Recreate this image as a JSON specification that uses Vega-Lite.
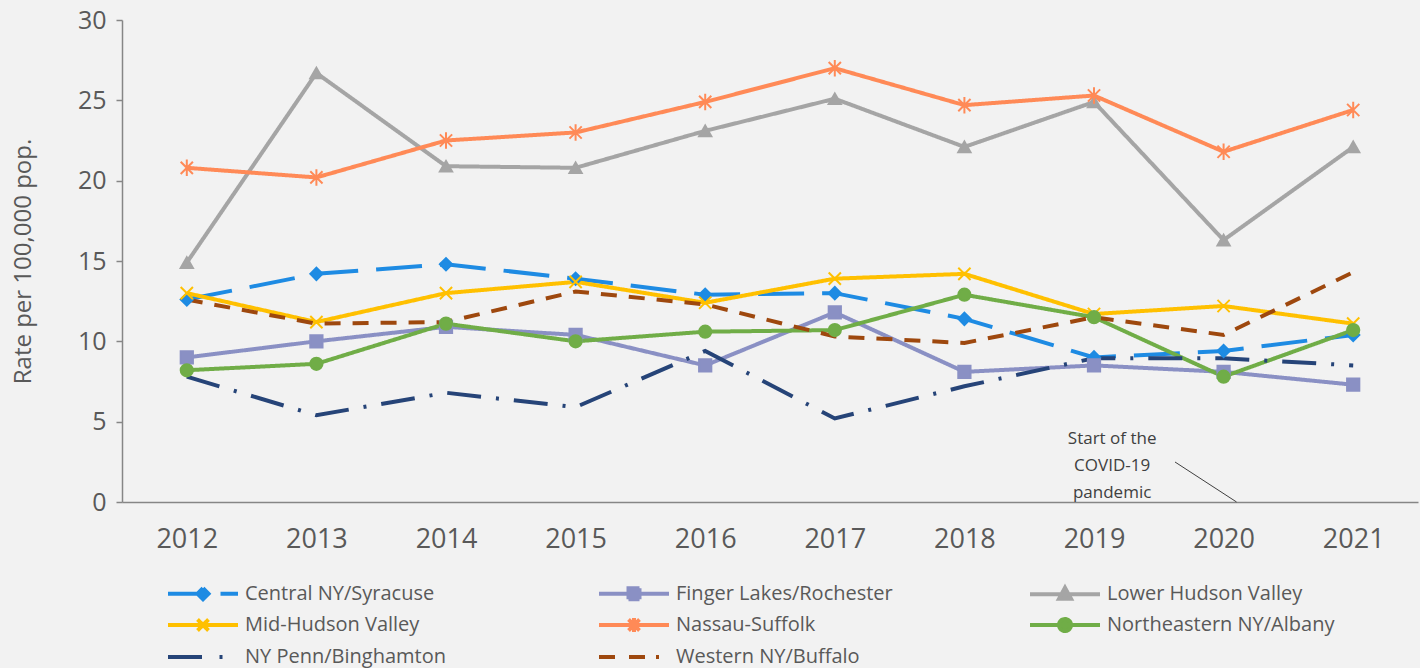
{
  "$schema": "https://vega.github.io/schema/vega-lite/v6.json",
  "width": 1296,
  "height": 482,
  "autosize": {"type": "none"},
  "padding": {"left": 122, "top": 20, "right": 2, "bottom": 166},
  "background": "#F2F2F2",
  "config": {"view": {"stroke": null}, "font": "Open Sans"},
  "datasets": {
    "rates": [
      {"region": "Central NY/Syracuse", "year": 2012, "rate": 12.6},
      {"region": "Central NY/Syracuse", "year": 2013, "rate": 14.2},
      {"region": "Central NY/Syracuse", "year": 2014, "rate": 14.8},
      {"region": "Central NY/Syracuse", "year": 2015, "rate": 13.9},
      {"region": "Central NY/Syracuse", "year": 2016, "rate": 12.9},
      {"region": "Central NY/Syracuse", "year": 2017, "rate": 13.0},
      {"region": "Central NY/Syracuse", "year": 2018, "rate": 11.4},
      {"region": "Central NY/Syracuse", "year": 2019, "rate": 9.0},
      {"region": "Central NY/Syracuse", "year": 2020, "rate": 9.4},
      {"region": "Central NY/Syracuse", "year": 2021, "rate": 10.4},
      {"region": "Finger Lakes/Rochester", "year": 2012, "rate": 9.0},
      {"region": "Finger Lakes/Rochester", "year": 2013, "rate": 10.0},
      {"region": "Finger Lakes/Rochester", "year": 2014, "rate": 10.9},
      {"region": "Finger Lakes/Rochester", "year": 2015, "rate": 10.4},
      {"region": "Finger Lakes/Rochester", "year": 2016, "rate": 8.5},
      {"region": "Finger Lakes/Rochester", "year": 2017, "rate": 11.8},
      {"region": "Finger Lakes/Rochester", "year": 2018, "rate": 8.1},
      {"region": "Finger Lakes/Rochester", "year": 2019, "rate": 8.5},
      {"region": "Finger Lakes/Rochester", "year": 2020, "rate": 8.1},
      {"region": "Finger Lakes/Rochester", "year": 2021, "rate": 7.3},
      {"region": "Lower Hudson Valley", "year": 2012, "rate": 14.9},
      {"region": "Lower Hudson Valley", "year": 2013, "rate": 26.7},
      {"region": "Lower Hudson Valley", "year": 2014, "rate": 20.9},
      {"region": "Lower Hudson Valley", "year": 2015, "rate": 20.8},
      {"region": "Lower Hudson Valley", "year": 2016, "rate": 23.1},
      {"region": "Lower Hudson Valley", "year": 2017, "rate": 25.1},
      {"region": "Lower Hudson Valley", "year": 2018, "rate": 22.1},
      {"region": "Lower Hudson Valley", "year": 2019, "rate": 24.9},
      {"region": "Lower Hudson Valley", "year": 2020, "rate": 16.3},
      {"region": "Lower Hudson Valley", "year": 2021, "rate": 22.1},
      {"region": "Mid-Hudson Valley", "year": 2012, "rate": 13.0},
      {"region": "Mid-Hudson Valley", "year": 2013, "rate": 11.2},
      {"region": "Mid-Hudson Valley", "year": 2014, "rate": 13.0},
      {"region": "Mid-Hudson Valley", "year": 2015, "rate": 13.7},
      {"region": "Mid-Hudson Valley", "year": 2016, "rate": 12.4},
      {"region": "Mid-Hudson Valley", "year": 2017, "rate": 13.9},
      {"region": "Mid-Hudson Valley", "year": 2018, "rate": 14.2},
      {"region": "Mid-Hudson Valley", "year": 2019, "rate": 11.7},
      {"region": "Mid-Hudson Valley", "year": 2020, "rate": 12.2},
      {"region": "Mid-Hudson Valley", "year": 2021, "rate": 11.1},
      {"region": "Nassau-Suffolk", "year": 2012, "rate": 20.8},
      {"region": "Nassau-Suffolk", "year": 2013, "rate": 20.2},
      {"region": "Nassau-Suffolk", "year": 2014, "rate": 22.5},
      {"region": "Nassau-Suffolk", "year": 2015, "rate": 23.0},
      {"region": "Nassau-Suffolk", "year": 2016, "rate": 24.9},
      {"region": "Nassau-Suffolk", "year": 2017, "rate": 27.0},
      {"region": "Nassau-Suffolk", "year": 2018, "rate": 24.7},
      {"region": "Nassau-Suffolk", "year": 2019, "rate": 25.3},
      {"region": "Nassau-Suffolk", "year": 2020, "rate": 21.8},
      {"region": "Nassau-Suffolk", "year": 2021, "rate": 24.4},
      {"region": "Northeastern NY/Albany", "year": 2012, "rate": 8.2},
      {"region": "Northeastern NY/Albany", "year": 2013, "rate": 8.6},
      {"region": "Northeastern NY/Albany", "year": 2014, "rate": 11.1},
      {"region": "Northeastern NY/Albany", "year": 2015, "rate": 10.0},
      {"region": "Northeastern NY/Albany", "year": 2016, "rate": 10.6},
      {"region": "Northeastern NY/Albany", "year": 2017, "rate": 10.7},
      {"region": "Northeastern NY/Albany", "year": 2018, "rate": 12.9},
      {"region": "Northeastern NY/Albany", "year": 2019, "rate": 11.5},
      {"region": "Northeastern NY/Albany", "year": 2020, "rate": 7.8},
      {"region": "Northeastern NY/Albany", "year": 2021, "rate": 10.7},
      {"region": "NY Penn/Binghamton", "year": 2012, "rate": 7.8},
      {"region": "NY Penn/Binghamton", "year": 2013, "rate": 5.4},
      {"region": "NY Penn/Binghamton", "year": 2014, "rate": 6.8},
      {"region": "NY Penn/Binghamton", "year": 2015, "rate": 5.9},
      {"region": "NY Penn/Binghamton", "year": 2016, "rate": 9.4},
      {"region": "NY Penn/Binghamton", "year": 2017, "rate": 5.2},
      {"region": "NY Penn/Binghamton", "year": 2018, "rate": 7.2},
      {"region": "NY Penn/Binghamton", "year": 2019, "rate": 8.95},
      {"region": "NY Penn/Binghamton", "year": 2020, "rate": 8.95},
      {"region": "NY Penn/Binghamton", "year": 2021, "rate": 8.5},
      {"region": "Western NY/Buffalo", "year": 2012, "rate": 12.6},
      {"region": "Western NY/Buffalo", "year": 2013, "rate": 11.1},
      {"region": "Western NY/Buffalo", "year": 2014, "rate": 11.2},
      {"region": "Western NY/Buffalo", "year": 2015, "rate": 13.1},
      {"region": "Western NY/Buffalo", "year": 2016, "rate": 12.3},
      {"region": "Western NY/Buffalo", "year": 2017, "rate": 10.3},
      {"region": "Western NY/Buffalo", "year": 2018, "rate": 9.9},
      {"region": "Western NY/Buffalo", "year": 2019, "rate": 11.5},
      {"region": "Western NY/Buffalo", "year": 2020, "rate": 10.4},
      {"region": "Western NY/Buffalo", "year": 2021, "rate": 14.3}
    ],
    "note": [
      {"x": 2019.14, "y": 3.92, "t": "Start of the"},
      {"x": 2019.14, "y": 2.24, "t": "COVID-19"},
      {"x": 2019.14, "y": 0.56, "t": "pandemic"}
    ],
    "leader": [
      {"x": 2019.625, "y": 2.49, "x2": 2020.1, "y2": 0}
    ]
  },
  "layer": [
    {
      "data": {"name": "rates"},
      "mark": {"type": "line", "strokeWidth": 4},
      "encoding": {
        "x": {
          "field": "year", "type": "quantitative",
          "scale": {"domain": [2011.5, 2021.5], "nice": false, "zero": false},
          "axis": {
            "title": null, "values": [2012, 2013, 2014, 2015, 2016, 2017, 2018, 2019, 2020, 2021],
            "format": "d", "grid": false, "ticks": false,
            "domainColor": "#868686", "domainWidth": 1.5,
            "labelFontSize": 27, "labelColor": "#595959", "labelPadding": 24
          }
        },
        "y": {
          "field": "rate", "type": "quantitative",
          "scale": {"domain": [0, 30], "nice": false},
          "axis": {
            "title": "Rate per 100,000 pop.", "values": [0, 5, 10, 15, 20, 25, 30],
            "grid": false, "domainColor": "#868686", "domainWidth": 1.5,
            "tickColor": "#868686", "tickWidth": 1.5, "tickSize": 6,
            "labelFontSize": 25, "labelColor": "#595959", "labelPadding": 10,
            "titleFontSize": 24, "titleFontWeight": "normal", "titleColor": "#595959",
            "titlePadding": 42
          }
        },
        "color": {
          "field": "region", "type": "nominal",
          "scale": {
            "domain": ["Central NY/Syracuse", "Finger Lakes/Rochester", "Lower Hudson Valley", "Mid-Hudson Valley", "Nassau-Suffolk", "Northeastern NY/Albany", "NY Penn/Binghamton", "Western NY/Buffalo"],
            "range": ["#1E8BE3", "#8A90C4", "#A5A5A5", "#FFC000", "#FF8A57", "#70AD47", "#264478", "#9E480E"]
          },
          "legend": {
            "title": null, "orient": "none", "legendX": 46, "legendY": 563, "direction": "horizontal",
            "columns": 3, "gridAlign": "all", "columnPadding": 118, "rowPadding": 2,
            "padding": 0, "symbolSize": 100, "symbolStrokeWidth": 4,
            "labelFontSize": 20, "labelColor": "#595959", "labelLimit": 400,
            "encode": {
              "symbols": {
                "update": {
                  "x": {"value": 35},
                  "size": {"value": 100},
                  "strokeWidth": {"value": 4},
                  "stroke": {"scale": "color", "field": "value"},
                  "fill": {"scale": "color", "field": "value"},
                  "opacity": {"value": 1},
                  "shape": {"signal": "datum.value === 'Central NY/Syracuse' ? 'M-7,0H0M0,-1.1L1.1,0L0,1.1L-1.1,0ZM3.5,0H7' : datum.value === 'Finger Lakes/Rochester' ? 'M-7,0H7M-1.1,-1.1H1.1V1.1H-1.1Z' : datum.value === 'Lower Hudson Valley' ? 'M-7,0H7M0,-1.3L1.2,0.9H-1.2Z' : datum.value === 'Mid-Hudson Valley' ? 'M-7,0H7M-1.1,-1.1L1.1,1.1M-1.1,1.1L1.1,-1.1' : datum.value === 'Nassau-Suffolk' ? 'M-7,0H7M-1.1,-1.1L1.1,1.1M-1.1,1.1L1.1,-1.1M0,-1.4V1.4' : datum.value === 'Northeastern NY/Albany' ? 'M-7,0H7M1.2,0A1.2,1.2,0,1,1,-1.2,0A1.2,1.2,0,1,1,1.2,0Z' : datum.value === 'NY Penn/Binghamton' ? 'M-7,0H0M3.3,0H3.9' : 'M-7,0H-3.6M-1,0H2.6M4.4,0H5'"}
                }
              },
              "labels": {"update": {"x": {"value": 77}}}
            }
          }
        },
        "strokeDash": {
          "field": "region", "type": "nominal",
          "scale": {
            "domain": ["Central NY/Syracuse", "Finger Lakes/Rochester", "Lower Hudson Valley", "Mid-Hudson Valley", "Nassau-Suffolk", "Northeastern NY/Albany", "NY Penn/Binghamton", "Western NY/Buffalo"],
            "range": [[46, 18], [1, 0], [1, 0], [1, 0], [1, 0], [1, 0], [34, 15, 3, 15], [16, 12]]
          },
          "legend": null
        }
      }
    },
    {
      "data": {"name": "rates"},
      "transform": [{"filter": "datum.region !== 'NY Penn/Binghamton' && datum.region !== 'Western NY/Buffalo'"}],
      "mark": {"type": "point", "size": 150, "strokeWidth": 2, "opacity": 1},
      "encoding": {
        "x": {"field": "year", "type": "quantitative"},
        "y": {"field": "rate", "type": "quantitative"},
        "fill": {
          "field": "region", "type": "nominal",
          "scale": {
            "domain": ["Central NY/Syracuse", "Finger Lakes/Rochester", "Lower Hudson Valley", "Mid-Hudson Valley", "Nassau-Suffolk", "Northeastern NY/Albany"],
            "range": ["#1E8BE3", "#8A90C4", "#A5A5A5", "#FFC000", "#FF8A57", "#70AD47"]
          },
          "legend": null
        },
        "stroke": {
          "field": "region", "type": "nominal",
          "scale": {
            "domain": ["Central NY/Syracuse", "Finger Lakes/Rochester", "Lower Hudson Valley", "Mid-Hudson Valley", "Nassau-Suffolk", "Northeastern NY/Albany"],
            "range": ["#1E8BE3", "#8A90C4", "#A5A5A5", "#FFC000", "#FF8A57", "#70AD47"]
          },
          "legend": null
        },
        "shape": {
          "field": "region", "type": "nominal",
          "scale": {
            "domain": ["Central NY/Syracuse", "Finger Lakes/Rochester", "Lower Hudson Valley", "Mid-Hudson Valley", "Nassau-Suffolk", "Northeastern NY/Albany"],
            "range": ["diamond", "square", "triangle-up", "M-1,-1L1,1M-1,1L1,-1", "M-1,-1L1,1M-1,1L1,-1M0,-1.35V1.35", "circle"]
          },
          "legend": null
        }
      }
    },
    {
      "data": {"name": "leader"},
      "mark": {"type": "rule", "color": "#404040", "strokeWidth": 1},
      "encoding": {
        "x": {"field": "x", "type": "quantitative"},
        "y": {"field": "y", "type": "quantitative"},
        "x2": {"field": "x2"},
        "y2": {"field": "y2"}
      }
    },
    {
      "data": {"name": "note"},
      "mark": {"type": "text", "fontSize": 17, "color": "#404040", "align": "center", "baseline": "middle"},
      "encoding": {
        "x": {"field": "x", "type": "quantitative"},
        "y": {"field": "y", "type": "quantitative"},
        "text": {"field": "t", "type": "nominal"}
      }
    }
  ]
}
